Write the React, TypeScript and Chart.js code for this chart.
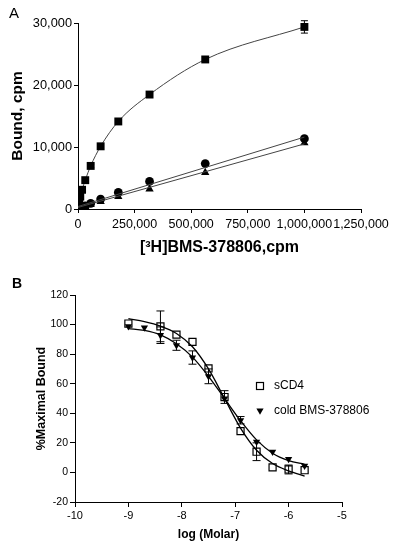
import React, { useEffect, useRef } from "react";
import { Chart, registerables } from "chart.js";

Chart.register(...registerables);

// ---------- Panel A data ----------
const concA = [1000, 1800, 3200, 5600, 10000, 18000, 32000, 56000, 100000, 178000, 316000, 562000, 1000000];
const squaresA = [250, 400, 700, 1200, 2000, 3100, 4650, 6950, 10110, 14120, 18460, 24120, 29370];
const squaresAErr = [0, 0, 0, 0, 0, 0, 0, 300, 0, 0, 0, 0, 1000];
const circlesA = [20, 35, 60, 100, 180, 300, 500, 900, 1600, 2680, 4440, 7330, 11350];
const trianglesA = [15, 25, 45, 75, 130, 230, 400, 700, 1180, 1980, 3210, 5890, 10650];
const circleFitX = [0, 1000000];
const circleFitY = [400, 11600];
const triangleFitX = [0, 1000000];
const triangleFitY = [250, 10500];
const xTicksA = [0, 250000, 500000, 750000, 1000000, 1250000];
const yTicksA = [0, 10000, 20000, 30000];

// ---------- Panel B data ----------
const logM = [-9, -8.4, -8.1, -7.8, -7.5, -7.2, -6.9, -6.6, -6.3, -6.0, -5.7];
const sCD4 = [100.7, 98.8, 93.2, 88.3, 70.3, 51.0, 27.9, 14.0, 3.4, 2.0, 1.5];
const sCD4Err = [0, 10.4, 0, 0, 0, 4.3, 0, 6, 0, 3, 0];
const coldX = [-9, -8.7, -8.4, -8.1, -7.8, -7.5, -7.2, -6.9, -6.6, -6.3, -6.0, -5.7];
const cold = [98.8, 98.0, 92.8, 86.0, 77.7, 65.0, 50.0, 35.3, 20.7, 13.9, 9.0, 4.5];
const coldErr = [0, 0, 5.6, 3.4, 4.5, 5, 0, 2.5, 0, 0, 0, 0];
const fitX = [-9, -8.7, -8.4, -8.1, -7.8, -7.5, -7.2, -6.9, -6.6, -6.3, -6.0, -5.7];
const sCD4Fit = [104, 102, 99, 94, 85, 70, 50, 30, 15, 6, 1, -2.5];
const coldFit = [97.3, 96, 93, 87, 78, 65, 50, 35, 22, 13, 8, 5.5];
const legendLabelsB = ["sCD4", "cold BMS-378806"];

const FONT = "'Liberation Sans', Arial, Helvetica, sans-serif";

const pts = (xs: number[], ys: number[]) => xs.map((x, i) => ({ x, y: ys[i] }));
const fmt = (v: number) => Number(v).toLocaleString("en-US");

const errorBarPlugin = {
  id: "errorBars",
  afterDatasetsDraw(chart: any) {
    const ctx = chart.ctx;
    chart.data.datasets.forEach((ds: any, di: number) => {
      if (!ds.errors) return;
      const meta = chart.getDatasetMeta(di);
      const ys = chart.scales.y;
      const cap = ds.capWidth || 4;
      ctx.save();
      ctx.strokeStyle = "#000";
      ctx.lineWidth = 1;
      meta.data.forEach((el: any, i: number) => {
        const e = ds.errors[i];
        if (!e) return;
        const v = ds.data[i].y;
        const top = ys.getPixelForValue(v + e);
        const bot = ys.getPixelForValue(v - e);
        ctx.beginPath();
        ctx.moveTo(el.x, top);
        ctx.lineTo(el.x, bot);
        ctx.moveTo(el.x - cap, top);
        ctx.lineTo(el.x + cap, top);
        ctx.moveTo(el.x - cap, bot);
        ctx.lineTo(el.x + cap, bot);
        ctx.stroke();
      });
      ctx.restore();
    });
  },
};

const legendBPlugin = {
  id: "legendB",
  afterDraw(chart: any) {
    const ctx = chart.ctx;
    ctx.save();
    ctx.font = `12px ${FONT}`;
    ctx.fillStyle = "#000";
    ctx.textBaseline = "middle";
    // item 1: open square
    const mx = 260, y1 = 106, y2 = 131;
    ctx.strokeStyle = "#000";
    ctx.lineWidth = 1.2;
    ctx.strokeRect(mx - 3.5, y1 - 3.5, 7, 7);
    ctx.fillText(legendLabelsB[0], 274, y1);
    // item 2: filled down triangle
    ctx.beginPath();
    ctx.moveTo(mx - 3.6, y2 - 2.5);
    ctx.lineTo(mx + 3.6, y2 - 2.5);
    ctx.lineTo(mx, y2 + 3.8);
    ctx.closePath();
    ctx.fill();
    ctx.fillText(legendLabelsB[1], 274, y2);
    ctx.restore();
  },
};

function axisCommon(tickSize: number, tickLen: number, pad: number) {
  return {
    grid: { drawOnChartArea: false, drawTicks: true, tickLength: tickLen, color: "#000", lineWidth: 1 },
    border: { display: true, color: "#000", width: 1 },
    ticks: { color: "#000", font: { family: FONT, size: tickSize }, padding: pad, maxRotation: 0, autoSkip: false },
  };
}

function PanelA() {
  const ref = useRef<HTMLCanvasElement>(null);
  useEffect(() => {
    const xc = axisCommon(12.5, 4, 4);
    const yc = axisCommon(12.8, 4, 2);
    const chart = new Chart(ref.current!, {
      type: "scatter",
      data: {
        datasets: [
          { data: pts(circleFitX, circleFitY), showLine: true, pointRadius: 0, borderColor: "#444", borderWidth: 1 } as any,
          { data: pts(triangleFitX, triangleFitY), showLine: true, pointRadius: 0, borderColor: "#444", borderWidth: 1 } as any,
          { data: pts(concA, squaresA), showLine: true, cubicInterpolationMode: "monotone", borderColor: "#444", borderWidth: 1,
            pointStyle: "rect", pointRadius: 5.6, pointBackgroundColor: "#000", pointBorderColor: "#000", pointBorderWidth: 0,
            errors: squaresAErr, capWidth: 3.5 } as any,
          { data: pts(concA, circlesA), showLine: false, pointStyle: "circle", pointRadius: 4.4,
            pointBackgroundColor: "#000", pointBorderColor: "#000", pointBorderWidth: 0 } as any,
          { data: pts(concA, trianglesA), showLine: false, pointStyle: "triangle", pointRadius: 4.8,
            pointBackgroundColor: "#000", pointBorderColor: "#000", pointBorderWidth: 0 } as any,
        ],
      },
      options: {
        animation: false,
        responsive: false,
        devicePixelRatio: 1,
        layout: { padding: { left: 0, right: 43, top: 23, bottom: 0 } },
        plugins: { legend: { display: false }, tooltip: { enabled: false } },
        scales: {
          x: {
            type: "linear", min: 0, max: 1250000,
            ...xc,
            ticks: { ...xc.ticks, stepSize: 250000, callback: (v: any) => (xTicksA.includes(v) ? fmt(v) : "") },
            title: { display: true, text: "[³H]BMS-378806,cpm", color: "#000", font: { family: FONT, size: 16, weight: "bold" }, padding: { top: 0, bottom: 13 } },
            afterFit: (s: any) => { s.height = 61; },
          } as any,
          y: {
            type: "linear", min: 0, max: 30000,
            ...yc,
            ticks: { ...yc.ticks, stepSize: 10000, callback: (v: any) => (yTicksA.includes(v) ? fmt(v) : "") },
            title: { display: true, text: "Bound, cpm", color: "#000", font: { family: FONT, size: 15.5, weight: "bold" }, padding: { top: 8, bottom: 0 } },
            afterFit: (s: any) => { s.width = 78; },
          } as any,
        },
      },
      plugins: [errorBarPlugin],
    });
    return () => chart.destroy();
  }, []);
  return <canvas ref={ref} width={404} height={270} style={{ position: "absolute", left: 0, top: 0, width: 404, height: 270 }} />;
}

function PanelB() {
  const ref = useRef<HTMLCanvasElement>(null);
  useEffect(() => {
    const xc = axisCommon(11, 5, 2);
    const yc = axisCommon(10.5, 5, 2);
    const chart = new Chart(ref.current!, {
      type: "scatter",
      data: {
        datasets: [
          { data: pts(fitX, sCD4Fit), showLine: true, cubicInterpolationMode: "monotone", pointRadius: 0, borderColor: "#000", borderWidth: 1.3 } as any,
          { data: pts(fitX, coldFit), showLine: true, cubicInterpolationMode: "monotone", pointRadius: 0, borderColor: "#000", borderWidth: 1.3 } as any,
          { data: pts(coldX, cold), showLine: false, pointStyle: "triangle", rotation: 180, pointRadius: 4.2,
            pointBackgroundColor: "#000", pointBorderColor: "#000", pointBorderWidth: 0, errors: coldErr, capWidth: 4 } as any,
          { data: pts(logM, sCD4), showLine: false, pointStyle: "rect", pointRadius: 5.0,
            pointBackgroundColor: "#fff", pointBorderColor: "#000", pointBorderWidth: 1.2, errors: sCD4Err, capWidth: 4 } as any,
        ],
      },
      options: {
        animation: false,
        responsive: false,
        devicePixelRatio: 1,
        layout: { padding: { left: 0, right: 62, top: 15, bottom: 0 } },
        plugins: { legend: { display: false }, tooltip: { enabled: false } },
        scales: {
          x: {
            type: "linear", min: -10, max: -5,
            ...xc,
            ticks: { ...xc.ticks, stepSize: 1 },
            title: { display: true, text: "log (Molar)", color: "#000", font: { family: FONT, size: 12, weight: "bold" }, padding: { top: 0, bottom: 4 } },
            afterFit: (s: any) => { s.height = 44; },
          } as any,
          y: {
            type: "linear", min: -20, max: 120,
            ...yc,
            ticks: { ...yc.ticks, stepSize: 20 },
            title: { display: true, text: "%Maximal Bound", color: "#000", font: { family: FONT, size: 12.5, weight: "bold" }, padding: { top: 34, bottom: 0 } },
            afterFit: (s: any) => { s.width = 75; },
          } as any,
        },
      },
      plugins: [errorBarPlugin, legendBPlugin],
    });
    return () => chart.destroy();
  }, []);
  return <canvas ref={ref} width={404} height={266} style={{ position: "absolute", left: 0, top: 280, width: 404, height: 266 }} />;
}

export default function App() {
  return (
    <div style={{ position: "absolute", left: 0, top: 0, width: 404, height: 546, background: "#fff", overflow: "hidden" }}>
      <PanelA />
      <PanelB />
      <div style={{ position: "absolute", left: 9, top: 5, font: `15px ${FONT}`, color: "#000", lineHeight: "16px" }}>A</div>
      <div style={{ position: "absolute", left: 12, top: 275, font: `bold 14px ${FONT}`, color: "#000", lineHeight: "16px" }}>B</div>
    </div>
  );
}
